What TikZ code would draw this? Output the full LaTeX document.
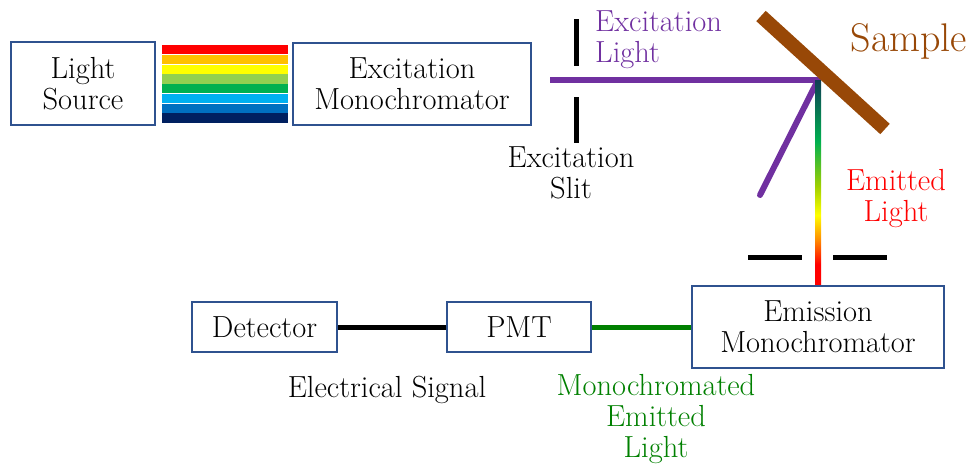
\documentclass[tikz,border=0pt]{standalone}
\usetikzlibrary{positioning}
\definecolor{boxblue}{HTML}{2F528F}
\definecolor{expurple}{HTML}{7030A0}
\definecolor{samplebrown}{HTML}{984807}
\definecolor{mongreen}{HTML}{008000}
\definecolor{rbred}{HTML}{FF0000}
\definecolor{rborange}{HTML}{FFC000}
\definecolor{rbyellow}{HTML}{FFFF00}
\definecolor{rblime}{HTML}{92D050}
\definecolor{rbgreen}{HTML}{00B050}
\definecolor{rbsky}{HTML}{00B0F0}
\definecolor{rbblue}{HTML}{0070C0}
\definecolor{rbnavy}{HTML}{002060}
\definecolor{emdark}{HTML}{103E55}
\definecolor{emlime}{HTML}{A0D000}
\definecolor{emorange}{HTML}{FF8C00}
% emitted light: dark at the sample, red at the emission slit
\pgfdeclareverticalshading{emitshade}{100bp}{color(0bp)=(rbred); color(30bp)=(rbred);
  color(36bp)=(emorange); color(42bp)=(rbyellow); color(49bp)=(emlime);
  color(60bp)=(rbgreen); color(75bp)=(emdark); color(100bp)=(emdark)}

\begin{document}
\begin{tikzpicture}[
    x=1pt, y=-1pt,
    txt/.style={font=\fontsize{30.5}{31}\selectfont, inner sep=0pt},
    box/.style={draw=boxblue, line width=2.5pt, fill=white, align=center,
        font=\fontsize{30.5}{31}\selectfont, inner sep=0pt},
    slit/.style={black, line width=5pt},
]
\useasboundingbox (0,0) rectangle (973,463);
% boxes
\node[box, minimum width=144, minimum height=83] (lightsrc) at (83,83.5) {Light\\Source};
\node[box, minimum width=238, minimum height=82] (exmono) at (412,84) {Excitation\\Monochromator};
\node[box, minimum width=252, minimum height=82] (emmono) at (818,327) {Emission\\Monochromator};
\node[box, minimum width=145, minimum height=50] (detector) at (264.5,327) {Detector};
\node[box, minimum width=144, minimum height=50] (pmt) at (519,327) {PMT};
% white light spread into its colours
\foreach \c [count=\i from 0] in {rbred,rborange,rbyellow,rblime,rbgreen,rbsky,rbblue,rbnavy}
    \fill[\c] (162,{45+\i*9.75}) rectangle (288,{45+(\i+1)*9.75-0.5});
% excitation slit
\draw[slit] (576,19) -- (576,66);
\draw[slit] (576,97) -- (576,143);
% excitation beam and its reflection off the sample
\coordinate (exout) at (550,80);
\coordinate (hit) at (818,80);
\coordinate (reflect) at (760,195);
\draw[expurple, line width=6pt] (exout) -- (hit);
\draw[expurple, line width=6pt, line cap=round] (hit) -- (reflect);
% emitted light down to the emission monochromator
\shade[shading=emitshade] ([xshift=-3pt]hit) rectangle ([xshift=3pt]emmono.north);
% emission slit
\draw[slit] (748,257) -- (802,257);
\draw[slit] (833,257) -- (887,257);
% sample
\draw[samplebrown, line width=14pt] (761,16) -- (885,129);
% signal path
\draw[black, line width=5pt] (detector) -- (pmt);
\draw[mongreen, line width=5pt] (pmt) -- (emmono);
% labels
\node[txt, text=expurple, align=left, anchor=west] (exlight) at (595,40) {Excitation\\Light};
\node[txt, align=center] (exslit) at (571,172.5) {Excitation\\Slit};
\node[txt, text=rbred, align=center] (emlight) at (896,199) {Emitted\\Light};
\node[txt, text=samplebrown, font=\fontsize{40}{42}\selectfont] (samplelbl) at (909,41) {Sample};
\node[txt] (elsignal) at (387,390) {Electrical Signal};
\node[txt, text=mongreen, align=center] (monolight) at (656,419) {Monochromated\\Emitted\\Light};
\end{tikzpicture}
\end{document}
